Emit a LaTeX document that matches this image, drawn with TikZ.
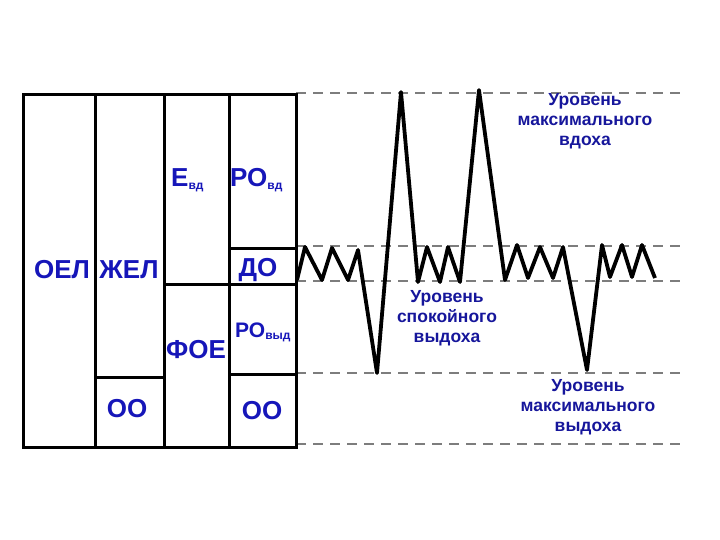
\documentclass[tikz,border=0pt]{standalone}
\usepackage{fontspec}
\setmainfont{Liberation Sans}
\usetikzlibrary{positioning}
\definecolor{lblblue}{RGB}{22,22,185}
\definecolor{lvlblue}{RGB}{22,22,155}
\definecolor{dashgray}{RGB}{125,125,125}
\newcommand{\lblsub}[1]{{\fontsize{12}{12}\selectfont\raisebox{-2pt}{#1}}}

\begin{document}
\begin{tikzpicture}[x=1pt, y=-1pt,
      cell/.style={line width=3pt, line cap=rect},
      wave/.style={line width=3.8pt, line join=round},
      level/.style={dashgray, line width=2pt, dash pattern=on 10pt off 7pt},
      lbl/.style={text=lblblue, inner sep=0pt,
                  font=\fontsize{26}{28}\selectfont\bfseries},
      lblsmall/.style={text=lblblue, inner sep=0pt,
                  font=\fontsize{21}{24}\selectfont\bfseries},
      lvltext/.style={text=lvlblue, inner sep=0pt, align=center,
                  font=\fontsize{17.5}{20}\selectfont\bfseries},
    ]
    \useasboundingbox (0,0) rectangle (720,540);

    % ---- level lines ----
    \coordinate (vdA) at (296,93);  \coordinate (vdB) at (680,93);
    \coordinate (tuA) at (296,246); \coordinate (tuB) at (680,246);
    \coordinate (tlA) at (296,281); \coordinate (tlB) at (680,281);
    \coordinate (vyA) at (296,373); \coordinate (vyB) at (680,373);
    \coordinate (boA) at (296,444); \coordinate (boB) at (680,444);
    \draw[level] (vdA) -- (vdB);
    \draw[level] (tuA) -- (tuB);
    \draw[level] (tlA) -- (tlB);
    \draw[level] (vyA) -- (vyB);
    \draw[level] (boA) -- (boB);

    % ---- spirogram ----
    \draw[wave] (297,280) -- (305,247) -- (322,280) -- (332,248) -- (348,280)
      -- (358,250) -- (377,373) -- (401,92) -- (418,282) -- (427,247)
      -- (440,282) -- (448,247) -- (460,282) -- (479,90) -- (505,280)
      -- (517,245) -- (528,278) -- (540,247) -- (553,278) -- (563,247)
      -- (587,370) -- (602,245) -- (610,277) -- (622,245) -- (632,277)
      -- (642,245) -- (655,278);

    % ---- volume box ----
    \draw[cell] (23,95) rectangle (296,447);
    \draw[cell] (95,95) -- (95,447);
    \draw[cell] (164,95) -- (164,447);
    \draw[cell] (229,95) -- (229,447);
    \draw[cell] (95,377) -- (164,377);
    \draw[cell] (164,284) -- (229,284);
    \draw[cell] (229,248) -- (296,248);
    \draw[cell] (229,284) -- (296,284);
    \draw[cell] (229,374) -- (296,374);

    % box labels
    \node[lbl] (oel) at (62,270) {ОЕЛ};
    \node[lbl] (zhel) at (129,270) {ЖЕЛ};
    \node[lbl, anchor=base west] (evd) at (171,187) {Е\lblsub{вд}};
    \node[lbl, anchor=base west] (rovd) at (230,187) {РО\lblsub{вд}};
    \node[lbl, anchor=base] (do) at (258,276) {ДО};
    \node[lbl, anchor=base] (foe) at (196,358) {ФОЕ};
    \node[lblsmall, anchor=base west] (rovyd) at (235,337) {РО\lblsub{выд}};
    \node[lbl] (oo1) at (127,409) {ОО};
    \node[lbl] (oo2) at (262,411) {ОО};

    % level labels
    \node[lvltext] (maxin) at (585,121) {Уровень\\максимального\\вдоха};
    \node[lvltext] (rest) at (447,318) {Уровень\\спокойного\\выдоха};
    \node[lvltext] (maxout) at (588,407) {Уровень\\максимального\\выдоха};
\end{tikzpicture}
\end{document}
